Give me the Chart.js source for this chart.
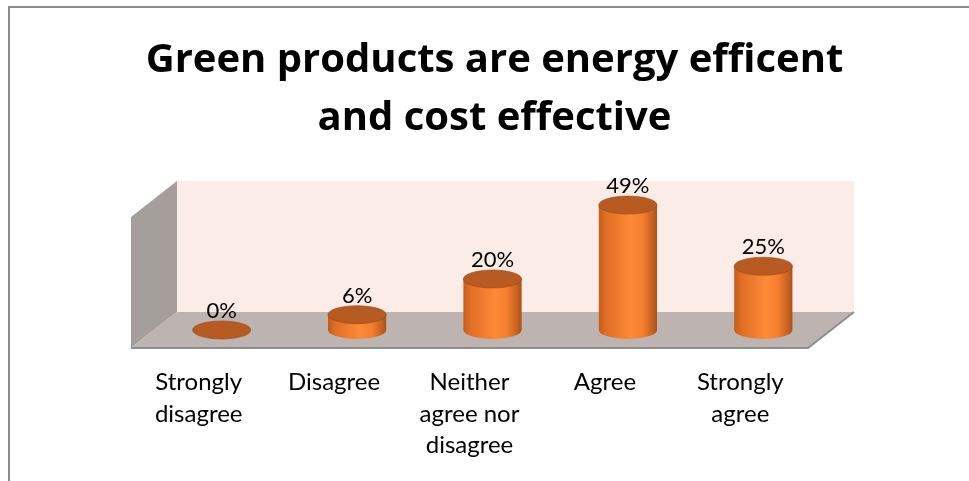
<!DOCTYPE html>
<html>
<head>
<meta charset="utf-8">
<script src="https://cdn.jsdelivr.net/npm/chart.js@4.4.1/dist/chart.umd.min.js"></script>
<style>
  html, body { margin: 0; padding: 0; background: #ffffff; overflow: hidden; width: 969px; height: 481px; }
  #frame { position: absolute; left: 8px; top: 6px; width: 2000px; height: 2000px;
           border-top: 2px solid #8c8c8c; border-left: 2px solid #8c8c8c; box-sizing: border-box; }
  #wrap { position: absolute; left: 0; top: 0; width: 969px; height: 481px; }
</style>
</head>
<body>
<div id="frame"></div>
<div id="wrap"><canvas id="c" width="969" height="481"></canvas></div>
<script>
// ---- data ----
const categories = [
  ["Strongly", "disagree"],
  ["Disagree"],
  ["Neither", "agree nor", "disagree"],
  ["Agree"],
  ["Strongly", "agree"]
];
const percentValues = [0, 6, 20, 49, 25];
const titleLines = ["Green products are energy efficent", "and cost effective"];

// ---- 3D decoration plugin (walls + cylinders drawn from the chart's own scales/elements) ----
const DEPTH_X = 46, DEPTH_Y = -36;       // full depth of the floor
const WALL_VALUE = 51.4;                 // height of the walls in axis units

const threeD = {
  id: 'threeD',
  beforeDatasetsDraw(chart) {
    const { ctx, chartArea: a, scales: { y } } = chart;
    const B = y.getPixelForValue(0);
    const T = y.getPixelForValue(WALL_VALUE);
    const H = B - T;
    const L = a.left, R = a.right;
    ctx.save();
    // back wall
    ctx.fillStyle = '#fbece8';
    ctx.fillRect(L + DEPTH_X, B + DEPTH_Y - H, R - L, H);
    // left wall
    ctx.fillStyle = '#a59f9c';
    ctx.beginPath();
    ctx.moveTo(L, B);
    ctx.lineTo(L, B - H);
    ctx.lineTo(L + DEPTH_X, B + DEPTH_Y - H);
    ctx.lineTo(L + DEPTH_X, B + DEPTH_Y);
    ctx.closePath();
    ctx.fill();
    // floor
    ctx.fillStyle = '#bdb4b2';
    ctx.beginPath();
    ctx.moveTo(L, B);
    ctx.lineTo(R, B);
    ctx.lineTo(R + DEPTH_X, B + DEPTH_Y);
    ctx.lineTo(L + DEPTH_X, B + DEPTH_Y);
    ctx.closePath();
    ctx.fill();
    // edges
    ctx.strokeStyle = '#8e8e8e';
    ctx.lineWidth = 2;
    ctx.beginPath();
    ctx.moveTo(L, B);
    ctx.lineTo(R, B);
    ctx.lineTo(R + DEPTH_X, B + DEPTH_Y);
    ctx.stroke();
    ctx.lineWidth = 1;
    ctx.strokeStyle = '#9a9a9a';
    ctx.beginPath();
    ctx.moveTo(L + 0.5, B);
    ctx.lineTo(L + 0.5, B - H);
    ctx.stroke();
    ctx.restore();
  },
  afterDatasetsDraw(chart) {
    const { ctx } = chart;
    const meta = chart.getDatasetMeta(0);
    const ds = chart.data.datasets[0];
    const ox = DEPTH_X / 2, oy = DEPTH_Y / 2;
    ctx.save();
    meta.data.forEach((bar, i) => {
      const p = bar.getProps(['x', 'y', 'base', 'width'], true);
      const cx = p.x + ox;
      const rx = p.width / 2;
      const ry = 9;
      const baseY = p.base + oy;
      const topY = p.y + oy;
      if (baseY - topY > 0.5) {
        const g = ctx.createLinearGradient(cx - rx, 0, cx + rx, 0);
        g.addColorStop(0, '#c25d1c');
        g.addColorStop(0.12, '#e06e24');
        g.addColorStop(0.55, '#fd8a37');
        g.addColorStop(0.75, '#f47f2f');
        g.addColorStop(0.92, '#c8621f');
        g.addColorStop(1, '#a9521b');
        ctx.fillStyle = g;
        ctx.beginPath();
        ctx.moveTo(cx - rx, topY);
        ctx.lineTo(cx - rx, baseY);
        ctx.ellipse(cx, baseY, rx, ry, 0, Math.PI, 0, true);
        ctx.lineTo(cx + rx, topY);
        ctx.closePath();
        ctx.fill();
      }
      // top cap
      ctx.fillStyle = '#b85b22';
      ctx.beginPath();
      ctx.ellipse(cx, topY, rx, ry, 0, 0, Math.PI * 2);
      ctx.fill();
      ctx.strokeStyle = 'rgba(150,70,20,0.6)';
      ctx.lineWidth = 1;
      ctx.stroke();
      // data label
      ctx.fillStyle = '#000000';
      ctx.font = '22px Lato';
      ctx.textAlign = 'center';
      ctx.textBaseline = 'middle';
      ctx.fillText(ds.data[i] + '%', cx, topY - 19);
    });
    ctx.restore();
  }
};

new Chart(document.getElementById('c'), {
  type: 'bar',
  data: {
    labels: categories,
    datasets: [{
      data: percentValues,
      backgroundColor: 'rgba(0,0,0,0)',
      borderWidth: 0,
      categoryPercentage: 1,
      barPercentage: 0.43
    }]
  },
  options: {
    responsive: false,
    animation: false,
    events: [],
    layout: { padding: { left: 20, right: 0, top: 0, bottom: 0 } },
    plugins: {
      legend: { display: false },
      tooltip: { enabled: false },
      title: {
        display: true,
        text: titleLines,
        color: '#000000',
        font: { family: "'Open Sans'", size: 40, weight: 'bold', lineHeight: 1.45 },
        padding: { top: 32, bottom: 47 }
      }
    },
    scales: {
      x: {
        grid: { display: false, drawTicks: false },
        border: { display: false },
        ticks: {
          color: '#000000',
          font: { family: 'Lato', size: 24, lineHeight: 1.31 },
          padding: 19,
          maxRotation: 0,
          autoSkip: false
        },
        afterFit(s) { s.height = 133; }
      },
      y: {
        min: 0, max: 60,
        grid: { display: false, drawTicks: false },
        border: { display: false },
        ticks: { display: false },
        afterFit(s) { s.width = 111; }
      },
      y2: {
        position: 'right',
        min: 0, max: 1,
        grid: { display: false, drawTicks: false },
        border: { display: false },
        ticks: { display: false },
        afterFit(s) { s.width = 161; }
      }
    }
  },
  plugins: [threeD]
});
</script>
</body>
</html>
